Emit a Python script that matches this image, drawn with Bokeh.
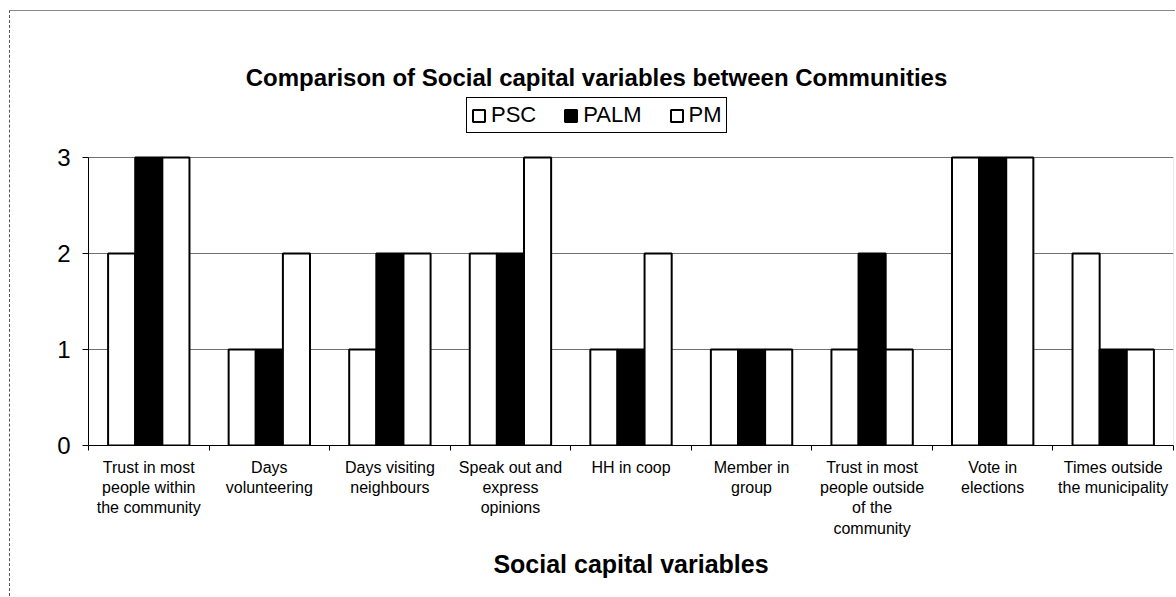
from bokeh.plotting import figure
from bokeh.models import (ColumnDataSource, Range1d, FixedTicker, Legend,
                          LegendItem, Label, BoxAnnotation)
from bokeh.embed import file_html
from bokeh.resources import INLINE

# Social capital variables (x categories) and their axis labels
categories = [
    "Trust in most people within the community",
    "Days volunteering",
    "Days visiting neighbours",
    "Speak out and express opinions",
    "HH in coop",
    "Member in group",
    "Trust in most people outside of the community",
    "Vote in elections",
    "Times outside the municipality",
]
tick_labels = [
    "Trust in most\npeople within\nthe community",
    "Days\nvolunteering",
    "Days visiting\nneighbours",
    "Speak out and\nexpress\nopinions",
    "HH in coop",
    "Member in\ngroup",
    "Trust in most\npeople outside\nof the\ncommunity",
    "Vote in\nelections",
    "Times outside\nthe municipality",
]

# Scores per community
psc = [2, 1, 1, 2, 1, 1, 1, 3, 2]
palm = [3, 1, 2, 2, 1, 1, 2, 3, 1]
pm = [3, 2, 2, 3, 2, 1, 1, 3, 1]

series_names = ["PSC", "PALM", "PM"]
y_ticks = [0, 1, 2, 3]
y_max = 3

FONT = "Liberation Sans"
BAR_W = 0.225

n = len(categories)
centers = [i + 0.5 for i in range(n)]

# the frame reaches up to the top of the canvas so that the title and the
# legend can live inside it; the value axis itself stops at y_max
TOP_EXTRA = 146 / 96.0

p = figure(
    width=1166, height=586,
    x_range=Range1d(0, n), y_range=Range1d(0, y_max + TOP_EXTRA),
    output_backend="svg", toolbar_location=None,
    min_border_left=78, min_border_right=3,
    min_border_top=0, min_border_bottom=152,
    margin=(10, 0, 0, 9),
    styles={"border-top": "1px solid #8a8a8a", "border-left": "1px dashed #555555"},
)
p.background_fill_color = "white"
p.border_fill_color = "white"
p.outline_line_color = None

# plot-area box (top and right edges)
p.add_layout(BoxAnnotation(left=0, right=n, bottom=0, top=y_max,
                           fill_alpha=0, line_color="#777777", line_width=1,
                           level="underlay"))

# grouped bars
offsets = [-BAR_W, 0.0, BAR_W]
fills = ["white", "black", "white"]
renderers = []
for vals, off, fill in zip([psc, palm, pm], offsets, fills):
    src = ColumnDataSource(dict(x=[c + off for c in centers], top=vals))
    r = p.vbar(x="x", top="top", bottom=0, width=BAR_W, source=src,
               fill_color=fill, line_color="black", line_width=2)
    renderers.append(r)

# axes
p.xgrid.visible = False
p.ygrid.grid_line_color = "#6f6f6f"
p.ygrid.grid_line_width = 1
p.ygrid.ticker = FixedTicker(ticks=y_ticks)

p.yaxis.ticker = FixedTicker(ticks=y_ticks)
p.yaxis.bounds = (0, y_max)
p.yaxis.axis_line_color = "black"
p.yaxis.major_tick_out = 6
p.yaxis.major_tick_in = 0
p.yaxis.minor_tick_out = 0
p.yaxis.major_label_text_font = FONT
p.yaxis.major_label_text_font_size = "24px"
p.yaxis.major_label_text_color = "black"
p.yaxis.major_label_standoff = 12

p.xaxis.ticker = FixedTicker(ticks=centers, minor_ticks=list(range(n + 1)))
p.xaxis.major_label_overrides = {c: lab for c, lab in zip(centers, tick_labels)}
p.xaxis.axis_line_color = "black"
p.xaxis.major_tick_out = 0
p.xaxis.major_tick_in = 0
p.xaxis.minor_tick_out = 5
p.xaxis.minor_tick_in = 0
p.xaxis.minor_tick_line_color = "black"
p.xaxis.major_label_text_font = FONT
p.xaxis.major_label_text_font_size = "16px"
p.xaxis.major_label_text_color = "black"
p.xaxis.major_label_standoff = 8
p.xaxis.axis_label = "Social capital variables"
p.xaxis.axis_label_text_font = FONT
p.xaxis.axis_label_text_font_size = "25px"
p.xaxis.axis_label_text_font_style = "bold"
p.xaxis.axis_label_text_color = "black"
p.xaxis.axis_label_standoff = 10

# chart title
title = Label(x=4.214, y=3.833,
              text="Comparison of Social capital variables between Communities",
              text_align="center", text_baseline="alphabetic",
              text_font=FONT, text_font_size="24px", text_font_style="bold",
              text_color="black")
p.add_layout(title)

# legend (location = bottom-left corner, pixels from the frame's bottom-left)
legend = Legend(
    items=[LegendItem(label=nm, renderers=[r]) for nm, r in zip(series_names, renderers)],
    orientation="horizontal",
    location=(378, 312),
    border_line_color="black", border_line_width=1, border_line_alpha=1,
    background_fill_color="white", background_fill_alpha=1,
    label_text_font=FONT, label_text_font_size="22px", label_text_color="black",
    label_height=22,
    glyph_width=15, glyph_height=15, label_standoff=5, spacing=27,
    padding=4, margin=0,
)
p.add_layout(legend)

open("out.html", "w").write(file_html(p, INLINE))
